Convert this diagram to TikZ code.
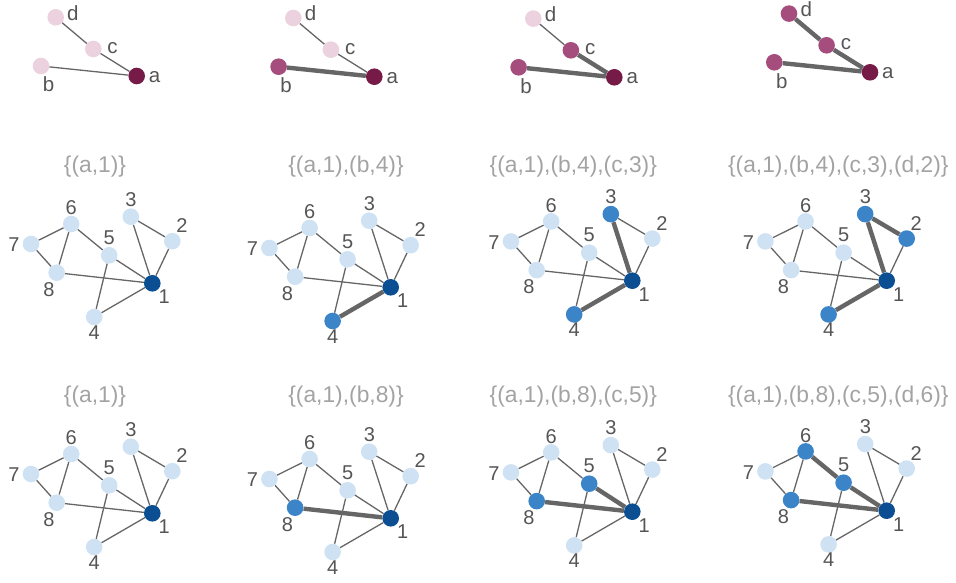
\documentclass[tikz,border=0pt]{standalone}
\usepackage{fontspec}
\setmainfont{Liberation Sans}
\definecolor{edgec}{HTML}{666666}
\definecolor{pdark}{HTML}{761A48}
\definecolor{pmid}{HTML}{A54D7D}
\definecolor{plight}{HTML}{EBD2DE}
\definecolor{tdark}{HTML}{0B4F92}
\definecolor{tmid}{HTML}{3C84C8}
\definecolor{tlight}{HTML}{CEE2F3}
\definecolor{lblc}{HTML}{555555}
\definecolor{titc}{HTML}{A3A3A3}
\pgfdeclarelayer{edges}
\pgfsetlayers{edges,main}
\tikzset{
 vtx/.style={circle, minimum size=16.6pt, inner sep=0pt, draw=none},
 pd/.style={vtx, fill=pdark}, pm/.style={vtx, fill=pmid}, pl/.style={vtx, fill=plight},
 td/.style={vtx, fill=tdark}, tm/.style={vtx, fill=tmid}, tl/.style={vtx, fill=tlight},
 thinedge/.style={draw=edgec, line width=1.3pt},
 thickedge/.style={draw=edgec, line width=4.4pt},
 lbl/.style={text=lblc, font=\fontsize{20}{20}\selectfont, inner sep=0pt},
 plbl/.style={text=lblc, font=\fontsize{20.5}{20}\selectfont, inner sep=0pt},
 ttl/.style={text=titc, font=\fontsize{22.8}{23}\selectfont, inner sep=0pt},
}
% pattern graph: #1 prefix, #2 dx, #3 dy, #4 style overrides
\newcommand{\PGraph}[4]{%
\begin{scope}[shift={(#2,#3)}, va/.style=pd, vb/.style=pl, vc/.style=pl, vd/.style=pl,
  eab/.style=thinedge, eac/.style=thinedge, ecd/.style=thinedge, #4]
 \node[va] (#1-a) at (136.7,76) {};
 \node[vb] (#1-b) at (41,66) {};
 \node[vc] (#1-c) at (93.3,49) {};
 \node[vd] (#1-d) at (55.7,17.3) {};
 \node[plbl] (#1-la) at (154.6,77) {a};
 \node[plbl] (#1-lb) at (48.5,84.5) {b};
 \node[plbl] (#1-lc) at (112.6,48) {c};
 \node[plbl] (#1-ld) at (72.9,12.8) {d};
 \begin{pgfonlayer}{edges}
 \draw[eab] (#1-a) -- (#1-b);
 \draw[eac] (#1-a) -- (#1-c);
 \draw[ecd] (#1-c) -- (#1-d);
 \end{pgfonlayer}
\end{scope}}
% target graph
\newcommand{\TGraph}[4]{%
\begin{scope}[shift={(#2,#3)}, v1/.style=td, v2/.style=tl, v3/.style=tl, v4/.style=tl,
  v5/.style=tl, v6/.style=tl, v7/.style=tl, v8/.style=tl,
  e67/.style=thinedge, e68/.style=thinedge, e65/.style=thinedge, e78/.style=thinedge,
  e81/.style=thinedge, e51/.style=thinedge, e54/.style=thinedge, e31/.style=thinedge,
  e32/.style=thinedge, e21/.style=thinedge, e41/.style=thinedge, #4]
 \node[v1] (#1-1) at (152.3,283.3) {};
 \node[v2] (#1-2) at (172.3,241.2) {};
 \node[v3] (#1-3) at (130.8,216.7) {};
 \node[v4] (#1-4) at (94.2,317) {};
 \node[v5] (#1-5) at (109.2,255.3) {};
 \node[v6] (#1-6) at (71.2,224) {};
 \node[v7] (#1-7) at (31,244) {};
 \node[v8] (#1-8) at (56.7,272.7) {};
 \node[lbl] (#1-l1) at (164.3,297) {1};
 \node[lbl] (#1-l2) at (181.9,225.7) {2};
 \node[lbl] (#1-l3) at (131,199.7) {3};
 \node[lbl] (#1-l4) at (94.3,332.3) {4};
 \node[lbl] (#1-l5) at (109.3,237.3) {5};
 \node[lbl] (#1-l6) at (71.2,208) {6};
 \node[lbl] (#1-l7) at (14,245) {7};
 \node[lbl] (#1-l8) at (49,289.5) {8};
 \begin{pgfonlayer}{edges}
 \draw[e67] (#1-6) -- (#1-7);
 \draw[e68] (#1-6) -- (#1-8);
 \draw[e65] (#1-6) -- (#1-5);
 \draw[e78] (#1-7) -- (#1-8);
 \draw[e81] (#1-8) -- (#1-1);
 \draw[e51] (#1-5) -- (#1-1);
 \draw[e54] (#1-5) -- (#1-4);
 \draw[e31] (#1-3) -- (#1-1);
 \draw[e32] (#1-3) -- (#1-2);
 \draw[e21] (#1-2) -- (#1-1);
 \draw[e41] (#1-4) -- (#1-1);
 \end{pgfonlayer}
\end{scope}}
\begin{document}
\begin{tikzpicture}[x=1pt, y=-1pt]
\useasboundingbox (0,0) rectangle (956,583);
% top row: pattern graphs
\PGraph{pA}{0}{0}{}
\PGraph{pB}{237.6}{0.7}{vb/.style=pm, eab/.style=thickedge}
\PGraph{pC}{477.6}{1.3}{vb/.style=pm, vc/.style=pm, eab/.style=thickedge, eac/.style=thickedge}
\PGraph{pD}{733.3}{-3.7}{vb/.style=pm, vc/.style=pm, vd/.style=pm, eab/.style=thickedge, eac/.style=thickedge, ecd/.style=thickedge}
% middle row
\node[ttl] (tA) at (95,166.7) {\{(a,1)\}};
\node[ttl] (tB) at (346,166.7) {\{(a,1),(b,4)\}};
\node[ttl] (tC) at (573.3,166.7) {\{(a,1),(b,4),(c,3)\}};
\node[ttl] (tD) at (838.3,166.7) {\{(a,1),(b,4),(c,3),(d,2)\}};
\TGraph{mA}{0}{0}{}
\TGraph{mB}{238.4}{4}{v4/.style=tm, e41/.style=thickedge}
\TGraph{mC}{480}{-2.6}{v4/.style=tm, v3/.style=tm, e41/.style=thickedge, e31/.style=thickedge}
\TGraph{mD}{734.4}{-2.6}{v4/.style=tm, v3/.style=tm, v2/.style=tm, e41/.style=thickedge, e31/.style=thickedge, e32/.style=thickedge}
% bottom row
\node[ttl] (uA) at (95,396.7) {\{(a,1)\}};
\node[ttl] (uB) at (346,396.7) {\{(a,1),(b,8)\}};
\node[ttl] (uC) at (573.3,396.7) {\{(a,1),(b,8),(c,5)\}};
\node[ttl] (uD) at (838.3,396.7) {\{(a,1),(b,8),(c,5),(d,6)\}};
\TGraph{bA}{0}{230}{}
\TGraph{bB}{238.4}{235}{v8/.style=tm, e81/.style=thickedge}
\TGraph{bC}{480}{228.4}{v8/.style=tm, v5/.style=tm, e81/.style=thickedge, e51/.style=thickedge}
\TGraph{bD}{734.4}{227.4}{v8/.style=tm, v5/.style=tm, v6/.style=tm, e81/.style=thickedge, e51/.style=thickedge, e65/.style=thickedge}
\end{tikzpicture}
\end{document}
